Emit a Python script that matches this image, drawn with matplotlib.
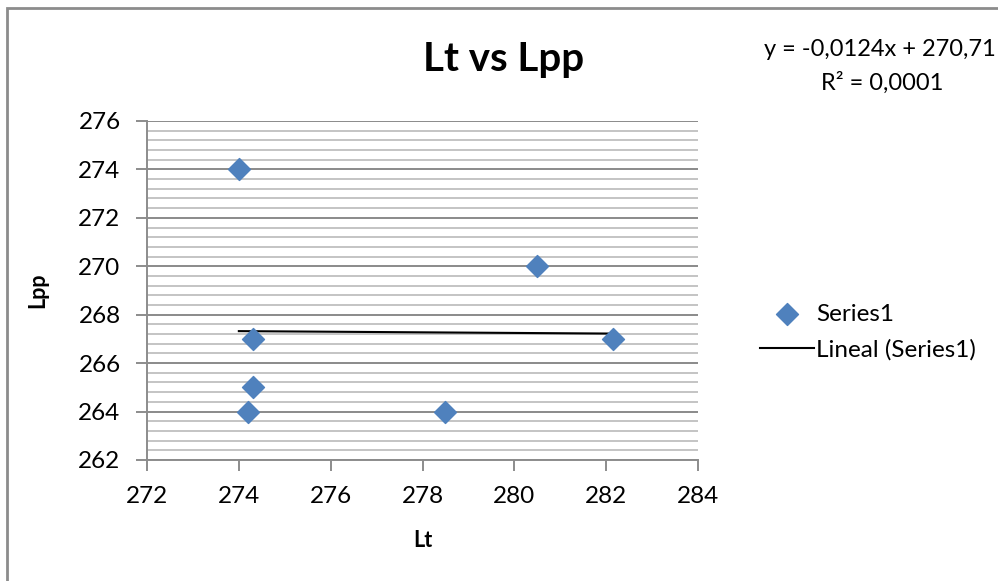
# Lt vs Lpp scatter with linear trend
import numpy as np
from matplotlib import pyplot as plt
from matplotlib.patches import Rectangle

lt = [274.0, 280.5, 282.15, 274.3, 274.3, 274.2, 278.5]
lpp = [274, 270, 267, 267, 265, 264, 264]
x_ticks = [272, 274, 276, 278, 280, 282, 284]
y_ticks = [262, 264, 266, 268, 270, 272, 274, 276]

plt.rcParams['font.family'] = ['Lato', 'DejaVu Sans']

fig = plt.figure(figsize=(9.98, 5.81), dpi=100)
ax = fig.add_axes([0.1473, 0.2083, 0.5521, 0.5835])

# minor + major horizontal grid, Excel style
for v in np.arange(262, 276.01, 0.4):
    ax.axhline(v, color='#c4c4c4', lw=1.4, zorder=0)
for v in y_ticks:
    ax.axhline(v, color='#8c8c8c', lw=1.4, zorder=0)

ax.scatter(lt, lpp, marker='D', s=125, color='#4f81bd', zorder=3,
           label='Series1')

k, m = np.polyfit(lt, lpp, 1)
xs = np.array([min(lt), max(lt)])
ax.plot(xs, k * xs + m, color='black', lw=1.5, zorder=2,
        label='Lineal (Series1)')

ax.set_xlim(272, 284)
ax.set_ylim(262, 276)
ax.set_xticks(x_ticks)
ax.set_yticks(y_ticks)
for s in ['top', 'right']:
    ax.spines[s].set_visible(False)
for s in ['left', 'bottom']:
    ax.spines[s].set_color('#8c8c8c')
    ax.spines[s].set_linewidth(1.4)
ax.tick_params(axis='both', direction='out', length=8, width=1.4,
               color='#8c8c8c', labelsize=17.5, pad=11)

ax.set_xlabel('Lt', fontsize=15.5, fontweight='bold', labelpad=16)
ax.set_ylabel('Lpp', fontsize=15.5, fontweight='bold', labelpad=22)

fig.text(0.505, 0.898, 'Lt vs Lpp', fontsize=29, fontweight='bold',
         ha='center', va='center')
fig.text(0.882, 0.914, 'y = -0,0124x + 270,71', fontsize=17,
         ha='center', va='center')
fig.text(0.884, 0.857, 'R² = 0,0001', fontsize=17,
         ha='center', va='center')

fig.legend(loc='center left', bbox_to_anchor=(0.74, 0.428), frameon=False,
           fontsize=17.5, handlelength=2.2, handletextpad=0.1,
           labelspacing=0.6)

fig.add_artist(Rectangle((0.007, -0.1), 1.2, 1.086, transform=fig.transFigure,
                         fill=False, edgecolor='#8c8c8c', lw=2))

plt.savefig('out.png', dpi=100)
